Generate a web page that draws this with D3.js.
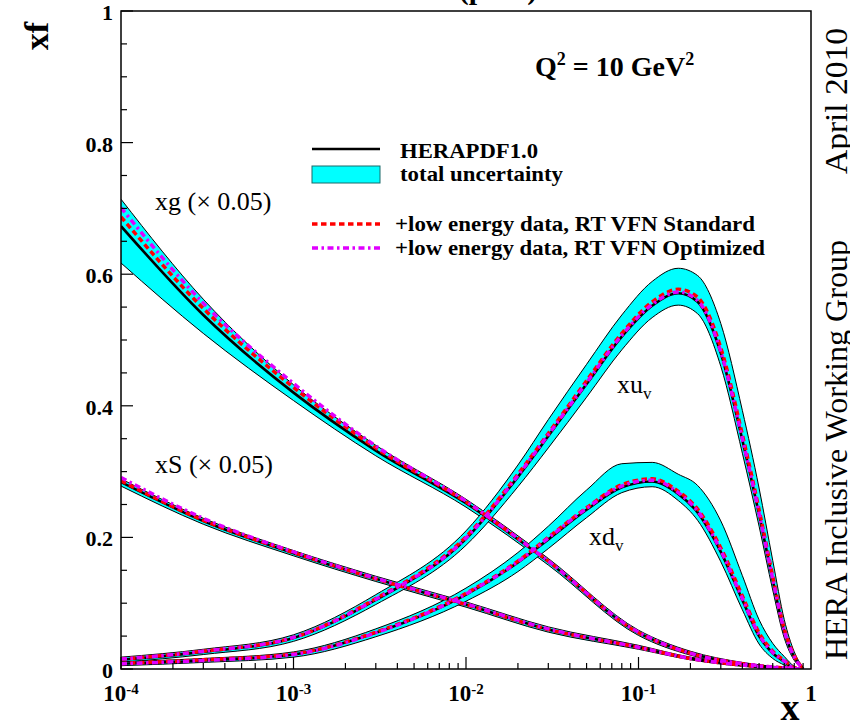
<!DOCTYPE html>
<html><head><meta charset="utf-8">
<script src="https://cdn.jsdelivr.net/npm/d3@7"></script>
<style>
body{margin:0;background:#fff;}
text{font-family:"Liberation Serif","Times New Roman",serif;}
</style></head>
<body><svg id="c" width="850" height="725"></svg>
<script>
// ---------- data ----------
const xSea = [1e-4, 3e-4, 1e-3, 3e-3, 0.01, 0.03, 0.1, 0.2, 0.4, 0.6, 0.8];
const xgCentral = [0.673,0.538,0.420,0.332,0.252,0.163,0.055,0.024,0.008,0.003,0.001];
const xgUpper   = [0.714,0.562,0.432,0.340,0.258,0.168,0.059,0.027,0.010,0.004,0.0015];
const xgLower   = [0.617,0.510,0.408,0.324,0.246,0.158,0.051,0.021,0.006,0.002,0.0005];
const xgStd     = [0.687,0.548,0.428,0.336,0.254,0.164,0.055,0.024,0.008,0.003,0.001];
const xgOpt     = [0.701,0.556,0.434,0.339,0.255,0.164,0.056,0.024,0.008,0.003,0.001];

const xSCentral = [0.284,0.225,0.176,0.137,0.098,0.060,0.033,0.016,0.006,0.002,0.0005];
const xSUpper   = [0.289,0.229,0.180,0.141,0.102,0.064,0.036,0.018,0.008,0.003,0.001];
const xSLower   = [0.278,0.220,0.172,0.133,0.094,0.056,0.030,0.014,0.004,0.001,0.0002];
const xSStd     = [0.286,0.226,0.177,0.137,0.098,0.060,0.033,0.016,0.006,0.002,0.0005];
const xSOpt     = [0.291,0.229,0.178,0.138,0.099,0.061,0.033,0.016,0.006,0.002,0.0005];

const xVal = [1e-4,3e-4,1e-3,3e-3,0.01,0.02,0.03,0.05,0.08,0.12,0.17,0.22,0.3,0.4,0.5,0.6,0.7,0.8,0.9];
const xuvCentral = [0.014,0.026,0.047,0.105,0.198,0.292,0.354,0.433,0.505,0.552,0.571,0.558,0.480,0.348,0.235,0.135,0.057,0.018,0.0];
const xuvUpper   = [0.018,0.030,0.052,0.113,0.210,0.310,0.379,0.463,0.538,0.589,0.609,0.598,0.525,0.393,0.275,0.165,0.075,0.026,0.002];
const xuvLower   = [0.010,0.022,0.042,0.098,0.188,0.277,0.336,0.413,0.485,0.534,0.553,0.540,0.460,0.328,0.217,0.120,0.047,0.013,0.0];
const xuvStd     = [0.015,0.027,0.048,0.107,0.201,0.296,0.358,0.438,0.510,0.558,0.577,0.565,0.488,0.356,0.242,0.141,0.061,0.020,0.0];
const xuvOpt     = [0.015,0.027,0.048,0.106,0.199,0.294,0.356,0.435,0.507,0.554,0.573,0.560,0.482,0.350,0.237,0.137,0.058,0.018,0.0];

const xdvCentral = [0.008,0.013,0.022,0.055,0.113,0.162,0.197,0.242,0.276,0.285,0.266,0.238,0.178,0.105,0.050,0.024,0.011,0.001,0.0];
const xdvUpper   = [0.011,0.016,0.026,0.061,0.123,0.177,0.217,0.272,0.312,0.314,0.296,0.279,0.225,0.142,0.075,0.039,0.019,0.004,0.0];
const xdvLower   = [0.005,0.010,0.018,0.049,0.103,0.148,0.183,0.230,0.268,0.277,0.256,0.226,0.163,0.090,0.038,0.016,0.006,0.0,0.0];
const xdvStd     = [0.0085,0.014,0.023,0.056,0.115,0.164,0.200,0.245,0.280,0.289,0.270,0.243,0.184,0.111,0.055,0.027,0.013,0.002,0.0];
const xdvOpt     = [0.008,0.013,0.022,0.055,0.114,0.163,0.199,0.244,0.278,0.287,0.268,0.240,0.180,0.107,0.052,0.025,0.012,0.001,0.0];

const yTicks = [0, 0.2, 0.4, 0.6, 0.8, 1];
const yTickLabels = ["0", "0.2", "0.4", "0.6", "0.8", "1"];
const xMajor = [1e-4, 1e-3, 1e-2, 1e-1, 1];
const xMajorExp = ["-4", "-3", "-2", "-1", ""];
const legendLabels = ["HERAPDF1.0", "total uncertainty", "+low energy data, RT VFN Standard", "+low energy data, RT VFN Optimized"];

// ---------- layout ----------
const svg = d3.select("#c");
const L = 121, R = 811, T = 11, B = 669;
const x = d3.scaleLog().domain([1e-4, 1]).range([L, R]);
const y = d3.scaleLinear().domain([0, 1]).range([B, T]);

svg.append("defs").append("clipPath").attr("id","clip")
  .append("rect").attr("x",L).attr("y",T).attr("width",R-L).attr("height",B-T);
const plot = svg.append("g").attr("clip-path","url(#clip)");

const curve = d3.curveMonotoneX;
const line = d3.line().x(d=>x(d[0])).y(d=>y(d[1])).curve(curve);
const P = (xs, arr) => xs.map((v,i)=>[v, Math.max(0,arr[i])]);

const sets = [
  [xSea, xgCentral, xgUpper, xgLower, xgStd, xgOpt],
  [xSea, xSCentral, xSUpper, xSLower, xSStd, xSOpt],
  [xVal, xuvCentral, xuvUpper, xuvLower, xuvStd, xuvOpt],
  [xVal, xdvCentral, xdvUpper, xdvLower, xdvStd, xdvOpt]
];
sets.forEach(([xs, c, up, lo])=>{
  const area = d3.area().x(d=>x(d)).y0((d,i)=>y(Math.max(0,lo[i]))).y1((d,i)=>y(Math.max(0,up[i]))).curve(curve);
  plot.append("path").attr("d", area(xs)).attr("fill","#00ffff").attr("stroke","none");
  plot.append("path").attr("d", line(P(xs,up))).attr("fill","none").attr("stroke","#000").attr("stroke-width",1);
  plot.append("path").attr("d", line(P(xs,lo))).attr("fill","none").attr("stroke","#000").attr("stroke-width",1);
});
sets.forEach(s=>{
  plot.append("path").attr("d", line(P(s[0],s[1]))).attr("fill","none").attr("stroke","#000").attr("stroke-width",2.6);
});
sets.forEach(s=>{
  plot.append("path").attr("d", line(P(s[0],s[4]))).attr("fill","none").attr("stroke","#ff0000").attr("stroke-width",3.5).attr("stroke-dasharray","5.5,3.5");
});
sets.forEach(s=>{
  plot.append("path").attr("d", line(P(s[0],s[5]))).attr("fill","none").attr("stroke","#e000ff").attr("stroke-width",3.5).attr("stroke-dasharray","6,3.5,2.5,3.5");
});

// ---------- frame & ticks ----------
svg.append("rect").attr("x",L).attr("y",T).attr("width",R-L).attr("height",B-T)
  .attr("fill","none").attr("stroke","#000").attr("stroke-width",1.5);
const yMinor = d3.range(0, 1.0001, 0.05);
yMinor.forEach(v=>{
  const major = Math.abs(v*5 - Math.round(v*5)) < 1e-6;
  svg.append("line").attr("x1",L).attr("x2",L+(major?12:6)).attr("y1",y(v)).attr("y2",y(v))
    .attr("stroke","#000").attr("stroke-width",1.2);
});
const xMinor = [];
for (let e=-4; e<0; e++) for (let m=1; m<10; m++) xMinor.push([m*Math.pow(10,e), m===1]);
xMinor.forEach(([v,major])=>{
  svg.append("line").attr("x1",x(v)).attr("x2",x(v)).attr("y1",B).attr("y2",B-(major?12:6))
    .attr("stroke","#000").attr("stroke-width",1.2);
});

// y tick labels
yTicks.forEach((v,i)=>{
  svg.append("text").attr("x",113).attr("y",y(v)+9).attr("text-anchor","end")
    .attr("font-weight","bold").attr("font-size",22).text(yTickLabels[i]);
});
// x tick labels
xMajor.forEach((v,i)=>{
  const t = svg.append("text").attr("y",701).attr("font-weight","bold").attr("font-size",23).attr("text-anchor","middle");
  t.attr("x", x(v));
  if (xMajorExp[i]) {
    t.append("tspan").text("10");
    t.append("tspan").attr("dy",-7).attr("font-size",15).text(xMajorExp[i]);
  } else {
    t.text("1");
  }
});

// axis titles
svg.append("text").attr("x",790).attr("y",720).attr("text-anchor","middle")
  .attr("font-weight","bold").attr("font-size",38).text("x");
svg.append("text").attr("transform","translate(48,36) rotate(-90)").attr("text-anchor","middle")
  .attr("font-weight","bold").attr("font-size",34).text("xf");

// top partial title (cut off by the top edge, as in the original)
svg.append("text").attr("x",498).attr("y",-1).attr("text-anchor","middle")
  .attr("font-weight","bold").attr("font-size",30).text("(prel.)");

// right side texts
svg.append("text").attr("transform","translate(847,101) rotate(-90)").attr("text-anchor","middle")
  .attr("font-size",32).attr("textLength",146).attr("lengthAdjust","spacingAndGlyphs").text("April 2010");
svg.append("text").attr("transform","translate(847,450) rotate(-90)").attr("text-anchor","middle")
  .attr("font-size",32).attr("textLength",420).attr("lengthAdjust","spacingAndGlyphs").text("HERA Inclusive Working Group");

// Q2 label
const q = svg.append("text").attr("x",535).attr("y",76).attr("font-weight","bold").attr("font-size",28);
q.append("tspan").text("Q");
q.append("tspan").attr("dy",-11).attr("font-size",18).text("2");
q.append("tspan").attr("dy",11).text(" = 10 GeV");
q.append("tspan").attr("dy",-11).attr("font-size",18).text("2");

// curve labels
svg.append("text").attr("x",155).attr("y",210).attr("font-size",26).text("xg (\u00d7 0.05)");
svg.append("text").attr("x",155).attr("y",473).attr("font-size",26).text("xS (\u00d7 0.05)");
const lu = svg.append("text").attr("x",617).attr("y",393).attr("font-size",26);
lu.append("tspan").text("xu"); lu.append("tspan").attr("dy",6).attr("font-size",17).text("v");
const ld = svg.append("text").attr("x",589).attr("y",545).attr("font-size",26);
ld.append("tspan").text("xd"); ld.append("tspan").attr("dy",6).attr("font-size",17).text("v");

// legend
const lg = svg.append("g");
lg.append("line").attr("x1",312).attr("x2",380).attr("y1",149).attr("y2",149).attr("stroke","#000").attr("stroke-width",2.6);
lg.append("rect").attr("x",312).attr("y",166).attr("width",68).attr("height",17).attr("fill","#00ffff").attr("stroke","#1a6a6a").attr("stroke-width",1);
lg.append("line").attr("x1",312).attr("x2",380).attr("y1",224).attr("y2",224).attr("stroke","#ff0000").attr("stroke-width",3.5).attr("stroke-dasharray","5.5,3.5");
lg.append("line").attr("x1",312).attr("x2",380).attr("y1",248).attr("y2",248).attr("stroke","#e000ff").attr("stroke-width",3.5).attr("stroke-dasharray","6,3.5,2.5,3.5");
const legPos = [[400,158,138],[400,181,163],[395,231,360],[395,255,370]];
legPos.forEach(([tx,ty,tl],i)=>{
  lg.append("text").attr("x",tx).attr("y",ty).attr("font-weight","bold").attr("font-size",21)
    .attr("textLength",tl).attr("lengthAdjust","spacingAndGlyphs").text(legendLabels[i]);
});
</script></body></html>
